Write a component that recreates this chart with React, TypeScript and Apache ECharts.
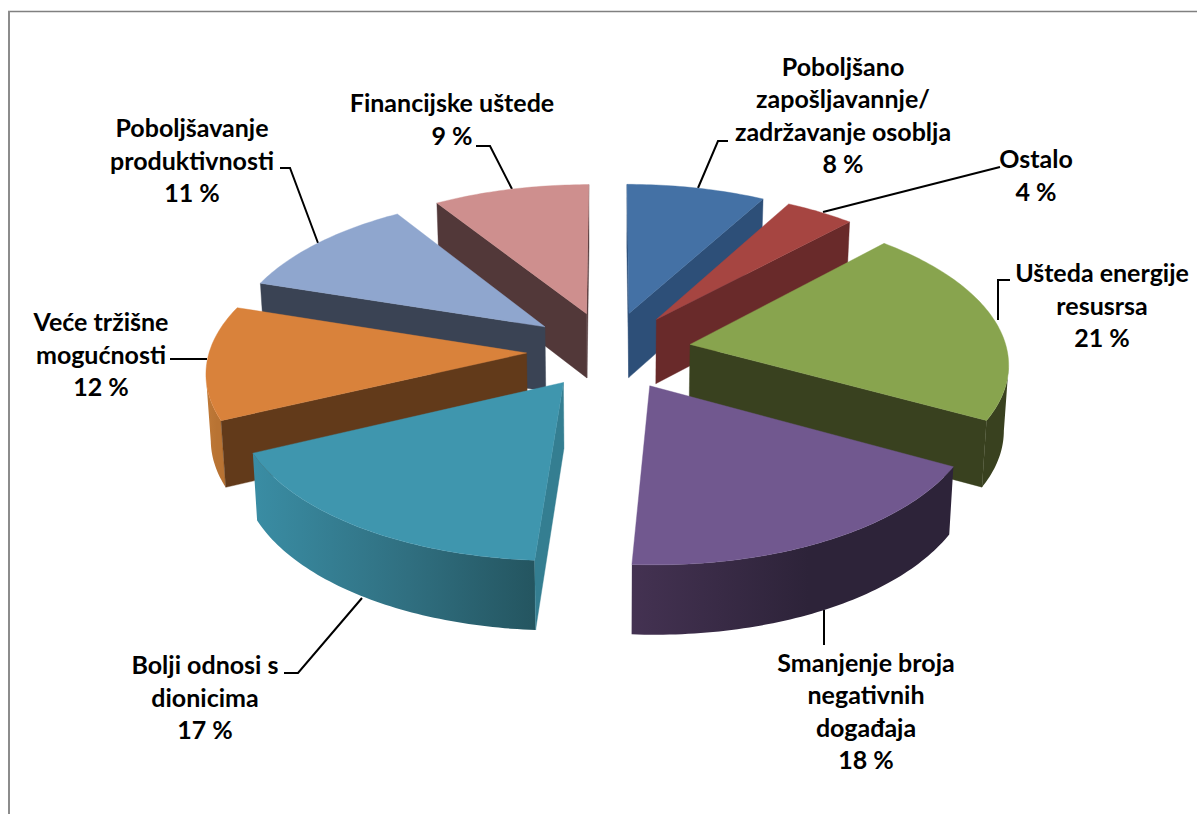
import React, { useEffect, useRef } from "react";
import * as echarts from "echarts";

// ---- data (clockwise from 12 o'clock) ----
const categories = [
  "Poboljšano\nzapošljavannje/\nzadržavanje osoblja",
  "Ostalo",
  "Ušteda energije\nresusrsa",
  "Smanjenje broja\nnegativnih\ndogađaja",
  "Bolji odnosi s\ndionicima",
  "Veće tržišne\nmogućnosti",
  "Poboljšavanje\nproduktivnosti",
  "Financijske uštede",
];
const values = [8, 4, 21, 18, 17, 12, 11, 9];

// ---- styles, one per slice ----
const topColors = ["#4471A5", "#A64541", "#88A44E", "#71588F", "#3F96AE", "#D9823B", "#8FA6CE", "#CE8F8E"];
const sideColors = ["#2D4F78", "#692A2A", "#39411F", "#2D2339", "#347E91", "#623A1A", "#3A4354", "#523839"];
const wallStops = [
  ["#2D4F78", "#2D4F78", "#2D4F78"],
  ["#692A2A", "#692A2A", "#692A2A"],
  ["#39411F", "#39411F", "#39411F"],
  ["#443252", "#2D2339", "#2D2339"],
  ["#3A8DA4", "#306F80", "#245560"],
  ["#C07A38", "#B87333", "#B87333"],
  ["#3A4354", "#3A4354", "#3A4354"],
  ["#523839", "#523839", "#523839"],
];
// painter's order, far to near
const drawOrder = [7, 0, 6, 1, 5, 2, 4, 3];

// ---- label layout: centre x, centre y of block, leader polyline ----
const labelCenters: number[][] = [
  [843, 114.5], [1036, 174.5], [1102, 304.5], [866, 710.5], [205, 696.5], [101, 353.5], [192, 159.5], [452, 118.5],
];
const leaders: number[][][] = [
  [[698, 188], [718, 141], [728, 141]],
  [[823, 212], [1000, 167]],
  [[998, 320], [998, 280], [1010, 280]],
  [[824, 610], [824, 645]],
  [[362, 598], [298, 673], [284, 673]],
  [[207, 359], [170, 359]],
  [[318, 243], [290, 168], [280, 168]],
  [[512, 189], [490, 146], [476, 146]],
];

// ---- projection of the tilted pie ----
const explosions = [0.26, 0.26, 0.26, 0.26, 0.25, 0.26, 0.26, 0.26];
const CX = 609, CY = 350.5, SCALE_X = 317, SCALE_Y = 151, PERSP = 0.11;
const HEIGHT = 65, BOTTOM_SHRINK = 0.012;
const RAD = Math.PI / 180;
const total = values.reduce((a, b) => a + b, 0);

function project(X: number, Y: number, bottom: boolean): number[] {
  const s = 1 / (1 + PERSP * Y);
  const dx = SCALE_X * X * s * (bottom ? 1 - BOTTOM_SHRINK : 1);
  const y = CY - SCALE_Y * Y * s + (bottom ? HEIGHT * Math.sqrt(s) : 0);
  return [CX + dx, y];
}

function renderSlice(params: any, api: any) {
  const idx = api.value(1) as number;
  let before = 0;
  for (let i = 0; i < idx; i++) before += values[i];
  const a0 = (before / total) * 360;
  const a1 = ((before + (api.value(0) as number)) / total) * 360;
  const mid = ((a0 + a1) / 2) * RAD;
  const ox = explosions[idx] * Math.sin(mid), oy = explosions[idx] * Math.cos(mid);
  const rim = (deg: number, bottom: boolean) =>
    project(ox + Math.sin(deg * RAD), oy + Math.cos(deg * RAD), bottom);
  const apexT = project(ox, oy, false), apexB = project(ox, oy, true);

  const steps = Math.max(8, Math.ceil(a1 - a0));
  const angles: number[] = [];
  for (let i = 0; i <= steps; i++) angles.push(a0 + ((a1 - a0) * i) / steps);

  const children: any[] = [];
  const poly = (points: number[][], fill: any) => ({
    type: "polygon",
    shape: { points },
    silent: true,
    style: { fill, stroke: typeof fill === "string" ? fill : "none", lineWidth: 0.4 },
  });

  // outer wall: only rim segments running right-to-left face the viewer
  const visible = angles.filter((d, i) => {
    const next = angles[Math.min(i + 1, steps)], prev = angles[Math.max(i - 1, 0)];
    return rim(next, false)[0] - rim(prev, false)[0] < 0;
  });
  if (visible.length > 1) {
    const top = visible.map((d) => rim(d, false));
    const bot = visible.map((d) => rim(d, true)).reverse();
    children.push(
      poly(top.concat(bot), {
        type: "linear", x: 0, y: 0, x2: 1, y2: 0,
        colorStops: [
          { offset: 0, color: wallStops[idx][0] },
          { offset: 0.55, color: wallStops[idx][1] },
          { offset: 1, color: wallStops[idx][2] },
        ],
      })
    );
  }
  // radial faces
  const startT = rim(a0, false), endT = rim(a1, false);
  if (startT[0] - apexT[0] < 0)
    children.push(poly([apexT, startT, rim(a0, true), apexB], sideColors[idx]));
  if (endT[0] - apexT[0] > 0)
    children.push(poly([apexT, endT, rim(a1, true), apexB], sideColors[idx]));
  // top face
  children.push(poly([apexT].concat(angles.map((d) => rim(d, false))), topColors[idx]));
  return { type: "group", children };
}

export default function App() {
  const ref = useRef<HTMLDivElement>(null);
  useEffect(() => {
    document.body.style.margin = "0";
    document.body.style.background = "#fff";
    const chart = echarts.init(ref.current!, undefined, { renderer: "svg" });
    const graphics: any[] = [
      { type: "line", silent: true, z: 1, shape: { x1: 8, y1: 11.5, x2: 1197, y2: 11.5 }, style: { stroke: "#808080", lineWidth: 1.5 } },
      { type: "line", silent: true, z: 1, shape: { x1: 9, y1: 11, x2: 9, y2: 814 }, style: { stroke: "#8c8c8c", lineWidth: 2 } },
    ];
    leaders.forEach((pts) =>
      graphics.push({
        type: "polyline", silent: true, z: 1,
        shape: { points: pts },
        style: { stroke: "#000", lineWidth: 2, fill: "none" },
      })
    );
    categories.forEach((name, i) =>
      graphics.push({
        type: "text", silent: true, z: 5,
        x: labelCenters[i][0], y: labelCenters[i][1],
        style: {
          text: name + "\n" + values[i] + " %",
          align: "center", verticalAlign: "middle",
          fontFamily: "Lato", fontWeight: 700, fontSize: 25, lineHeight: 32.5, fill: "#000",
        },
      })
    );
    chart.setOption({
      animation: false,
      backgroundColor: "#fff",
      graphic: { elements: graphics },
      series: [
        {
          type: "custom",
          coordinateSystem: "none",
          silent: true,
          clip: false,
          z: 3,
          renderItem: renderSlice,
          data: drawOrder.map((i) => ({ name: categories[i], value: [values[i], i] })),
        },
      ],
    });
    return () => chart.dispose();
  }, []);
  return <div ref={ref} style={{ position: "absolute", left: 0, top: 0, width: 1197, height: 814 }} />;
}
